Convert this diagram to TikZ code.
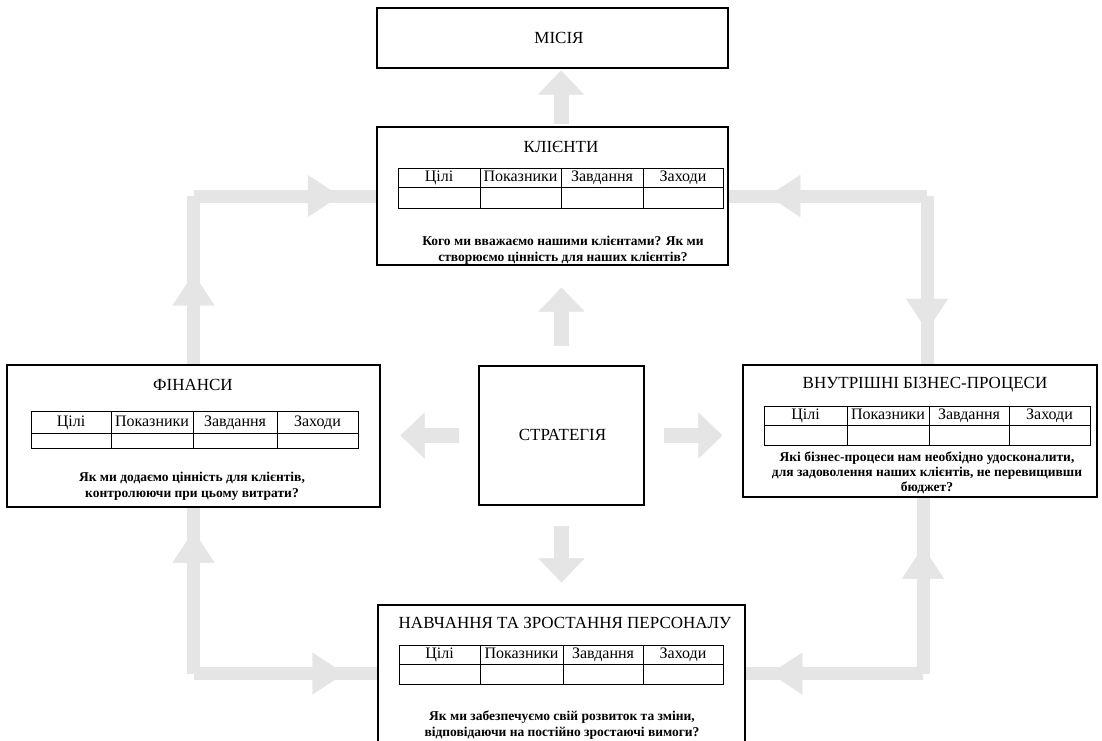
\documentclass[tikz,border=0pt]{standalone}
\usepackage{fontspec}
\setmainfont{Liberation Serif}
\usetikzlibrary{arrows.meta,decorations.markings}
\tikzset{
  box/.style={draw=black, line width=1.1pt, rectangle, inner sep=0pt},
  ttl/.style={inner sep=0pt, font=\fontsize{17}{20}\selectfont},
  hdr/.style={inner sep=0pt, text height=11pt, text depth=3pt, font=\fontsize{16}{18}\selectfont},
  body/.style={inner sep=0pt, align=center, font=\fontsize{13.5}{16}\selectfont\bfseries},
  tbl/.style={draw=black, line width=0.9pt},
  shaft/.style={draw=gray!20, line width=13pt, line join=miter},
  bigarrow/.style={draw=gray!20, line width=15pt, -{Triangle[width=46pt,length=24pt,line width=0.4pt]}},
  midhead/.style={postaction={decorate, decoration={markings,
      mark=at position #1 with {\arrow{Triangle[width=42pt,length=32pt,line width=0.4pt]}}}}}
}
\newcommand{\bsctable}[9]{%
  \draw[tbl] (#2,#4) rectangle (#3,#6);
  \draw[tbl] (#2,#5) -- (#3,#5);
  \draw[tbl] (#7,#4) -- (#7,#6);
  \draw[tbl] (#8,#4) -- (#8,#6);
  \draw[tbl] (#9,#4) -- (#9,#6);
  \node[hdr] (#1a) at ({(#2+#7)/2},{(#4+#5)/2}) {Цілі};
  \node[hdr] (#1b) at ({(#7+#8)/2},{(#4+#5)/2}) {Показники};
  \node[hdr] (#1c) at ({(#8+#9)/2},{(#4+#5)/2}) {Завдання};
  \node[hdr] (#1d) at ({(#9+#3)/2},{(#4+#5)/2}) {Заходи};
}
\begin{document}
\begin{tikzpicture}[x=1pt,y=-1pt]
\useasboundingbox (0,0) rectangle (1102,740);
\fill[white] (0,0) rectangle (1102,740);

% boxes
\node[box, minimum width=351pt, minimum height=60pt] (mission) at (552.5,38) {};
\node[box, minimum width=351pt, minimum height=138pt] (klienty) at (552.5,196) {};
\node[box, minimum width=373pt, minimum height=142pt] (fin) at (193.5,436) {};
\node[box, minimum width=354pt, minimum height=132pt] (internal) at (920,431) {};
\node[box, minimum width=367pt, minimum height=137pt] (learning) at (561.5,673.5) {};
\node[box, minimum width=165pt, minimum height=139pt] (strat) at (561.5,435.5) {};

% corner coordinates
\coordinate (tlc) at (193.5,196);
\coordinate (trc) at (927,196);
\coordinate (blc) at (193.5,673.5);
\coordinate (brc) at (923,673.5);

% loop connectors
\draw[shaft, midhead=0.8] (tlc) -- (klienty.west);
\draw[shaft] (tlc) -- (fin.north);
\draw[shaft, midhead=0.54, draw=none] (fin.north) -- (tlc);
\draw[shaft, midhead=0.8] (trc) -- (klienty.east);
\draw[shaft, midhead=0.8] (trc) -- (trc |- internal.north);
\draw[shaft, midhead=0.86] (blc) -- (fin.south);
\draw[shaft, midhead=0.82] (blc) -- (learning.west);
\draw[shaft, midhead=0.72] (brc) -- (brc |- internal.south);
\draw[shaft, midhead=0.86] (brc) -- (learning.east);

% strategy arrows
\draw[bigarrow, shorten <=19pt, shorten >=22pt] (strat.north) -- (strat.north |- klienty.south);
\draw[bigarrow, shorten <=20pt, shorten >=22pt] (strat.south) -- (strat.south |- learning.north);
\draw[bigarrow, shorten <=19pt, shorten >=20pt] (strat.west) -- (strat.west -| fin.east);
\draw[bigarrow, shorten <=19pt, shorten >=20pt] (strat.east) -- (strat.east -| internal.west);
\draw[bigarrow, shorten <=2pt, shorten >=2pt] (klienty.north -| 561,0) -- (mission.south -| 561,0);

% titles
\node[ttl] (missiont) at (559,38) {МІСІЯ};
\node[ttl] (klientyt) at (561,147) {КЛІЄНТИ};
\node[ttl] (fint) at (193,385) {ФІНАНСИ};
\node[ttl] (internalt) at (925,385) {ВНУТРІШНІ БІЗНЕС-ПРОЦЕСИ};
\node[ttl] (learningt) at (565,623) {НАВЧАННЯ ТА ЗРОСТАННЯ ПЕРСОНАЛУ};
\node[ttl] (stratt) at (562.5,435) {СТРАТЕГІЯ};

% tables
\bsctable{kt}{398}{723}{168}{187}{208}{480}{561}{643}
\bsctable{ft}{31}{358}{411}{433}{448}{111}{193}{277}
\bsctable{it}{764}{1090}{406}{425}{445}{847}{929}{1009}
\bsctable{lt}{399}{723}{645}{664}{684}{480}{563}{643}

% questions
\node[body] (kq) at (563,250.5) {Кого ми вважаємо нашими клієнтами? Як ми\\створюємо цінність для наших клієнтів?};
\node[body] (fq) at (192,486.5) {Як ми додаємо цінність для клієнтів,\\контролюючи при цьому витрати?};
\node[body, font=\fontsize{13.5}{15}\selectfont\bfseries] (iq) at (927,473) {Які бізнес-процеси нам необхідно удосконалити,\\для задоволення наших клієнтів, не перевищивши\\бюджет?};
\node[body] (lq) at (562,725) {Як ми забезпечуємо свій розвиток та зміни,\\відповідаючи на постійно зростаючі вимоги?};
\end{tikzpicture}
\end{document}
